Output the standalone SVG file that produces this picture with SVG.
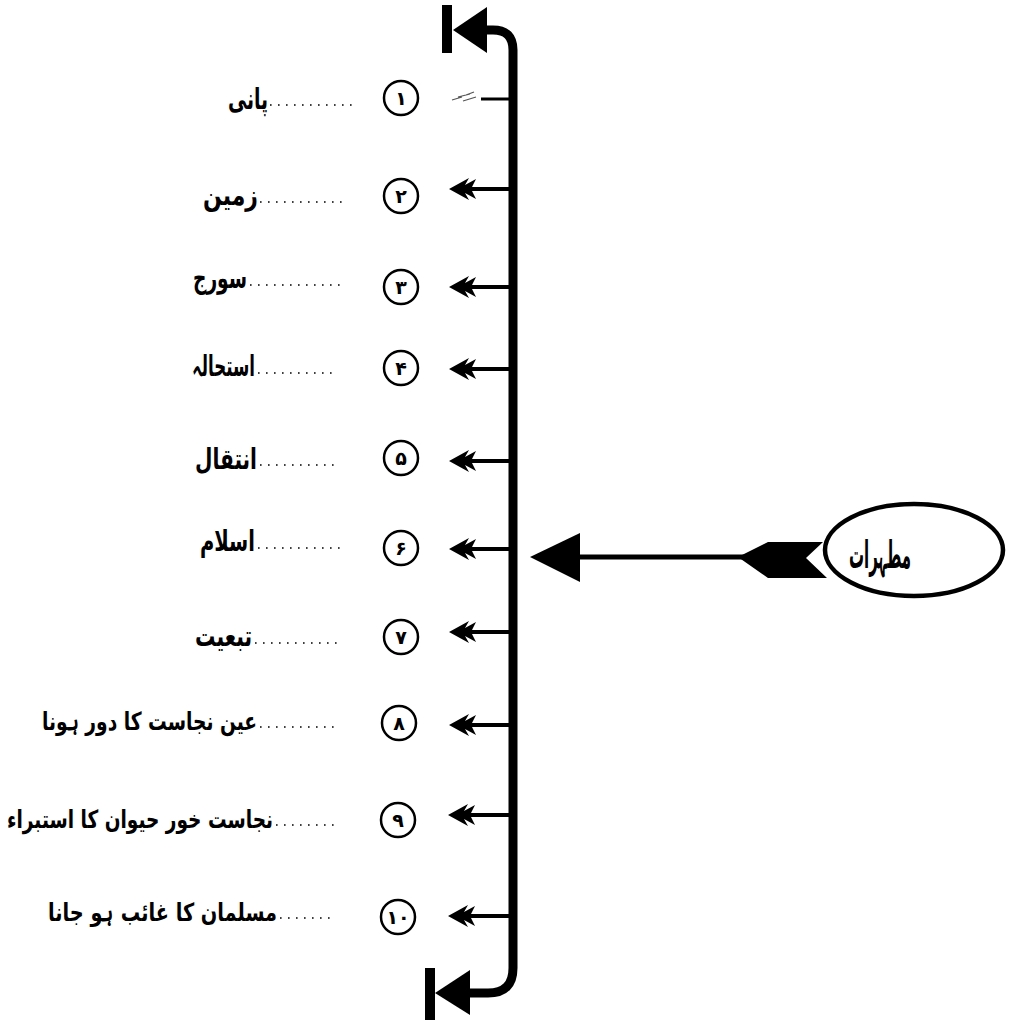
<svg xmlns="http://www.w3.org/2000/svg" xmlns:xlink="http://www.w3.org/1999/xlink" width="1021" height="1020" viewBox="0 0 1021 1020">
<style>
.bg{fill:#fff}
.num{fill:none;stroke:#000;stroke-width:2.5}
.dig{font-family:"DejaVu Sans",sans-serif;font-size:19px;font-weight:bold;fill:#000;text-anchor:middle}
.lbl{font-family:"DejaVu Sans",sans-serif;font-size:29px;font-weight:bold;fill:#000;text-anchor:end}
.lbl2{font-family:"DejaVu Sans",sans-serif;font-size:25px;font-weight:bold;fill:#000;text-anchor:end}
.dots{stroke:#000;stroke-width:1.6;stroke-dasharray:1.6 6.4;fill:none}
.branch{stroke:#000;stroke-width:4;fill:none}
.spine{stroke:#000;stroke-width:9;fill:none}
.blk{fill:#000}
</style>
<defs>
<path id="fhead" d="M0,0 L20,-11 L16,-4 L27,-10 L23,-2 L23,2 L27,10 L16,4 L20,11 Z"/>
</defs>
<rect class="bg" width="1021" height="1020"/>

<g id="connectors">
  <path class="spine" d="M487,30 L493,30 Q513,30 513,50 L513,968 Q513,993 488,993 L470,993"/>
  <polygon class="blk" points="453,30 487,7 487,53"/>
  <rect class="blk" x="442" y="5" width="10" height="48"/>
  <polygon class="blk" points="435,993 470,970 470,1015"/>
  <rect class="blk" x="425" y="968" width="10" height="52"/>
  <line x1="481" y1="99" x2="513" y2="99" stroke="#000" stroke-width="3"/>
  <path d="M452,100 L462,97 M458,97 L470,94 M463,101 L476,97 M466,95 L474,92" stroke="#555" stroke-width="1.2" fill="none"/>
  <line class="branch" x1="470" y1="189" x2="513" y2="189"/><use xlink:href="#fhead" x="449" y="189"/>
  <line class="branch" x1="470" y1="287" x2="513" y2="287"/><use xlink:href="#fhead" x="449" y="287"/>
  <line class="branch" x1="470" y1="369" x2="513" y2="369"/><use xlink:href="#fhead" x="449" y="369"/>
  <line class="branch" x1="470" y1="461" x2="513" y2="461"/><use xlink:href="#fhead" x="449" y="461"/>
  <line class="branch" x1="470" y1="549" x2="513" y2="549"/><use xlink:href="#fhead" x="449" y="549"/>
  <line class="branch" x1="470" y1="632" x2="513" y2="632"/><use xlink:href="#fhead" x="449" y="632"/>
  <line class="branch" x1="470" y1="725" x2="513" y2="725"/><use xlink:href="#fhead" x="449" y="725"/>
  <line class="branch" x1="470" y1="815" x2="513" y2="815"/><use xlink:href="#fhead" x="448" y="815"/>
  <line class="branch" x1="470" y1="916" x2="513" y2="916"/><use xlink:href="#fhead" x="448" y="916"/>
  <line x1="575" y1="557" x2="745" y2="557" stroke="#000" stroke-width="5"/>
  <polygon class="blk" points="530,557 580,533 580,582"/>
  <polygon class="blk" points="738,557 768,542 823,542 806,558 827,578 768,578"/>
</g>

<g id="node-1">
  <circle class="num" cx="401" cy="98" r="17"/>
  <text class="dig" x="401" y="105">۱</text>
  <line class="dots" x1="270" y1="105" x2="357" y2="105"/>
  <text class="lbl" x="268" y="109" font-size="34" textLength="40" lengthAdjust="spacingAndGlyphs">پانی</text>
</g>
<g id="node-2">
  <circle class="num" cx="401" cy="196" r="17"/>
  <text class="dig" x="401" y="203">۲</text>
  <line class="dots" x1="260" y1="202" x2="347" y2="202"/>
  <text class="lbl" x="258" y="205" textLength="55" lengthAdjust="spacingAndGlyphs">زمین</text>
</g>
<g id="node-3">
  <circle class="num" cx="401" cy="287" r="17"/>
  <text class="dig" x="401" y="294">۳</text>
  <line class="dots" x1="250" y1="285" x2="345" y2="285"/>
  <text class="lbl" x="247" y="288" textLength="54" lengthAdjust="spacingAndGlyphs">سورج</text>
</g>
<g id="node-4">
  <circle class="num" cx="401" cy="368" r="17"/>
  <text class="dig" x="401" y="375">۴</text>
  <line class="dots" x1="258" y1="373" x2="338" y2="373"/>
  <text class="lbl" x="255" y="376" textLength="63" lengthAdjust="spacingAndGlyphs">استحالہ</text>
</g>
<g id="node-5">
  <circle class="num" cx="401" cy="458" r="17"/>
  <text class="dig" x="401" y="465">۵</text>
  <line class="dots" x1="260" y1="465" x2="340" y2="465"/>
  <text class="lbl" x="257" y="469" font-size="34" textLength="62" lengthAdjust="spacingAndGlyphs">انتقال</text>
</g>
<g id="node-6">
  <circle class="num" cx="401" cy="548" r="17"/>
  <text class="dig" x="401" y="555">۶</text>
  <line class="dots" x1="258" y1="548" x2="340" y2="548"/>
  <text class="lbl" x="255" y="551" textLength="55" lengthAdjust="spacingAndGlyphs">اسلام</text>
</g>
<g id="node-7">
  <circle class="num" cx="401" cy="637" r="17"/>
  <text class="dig" x="401" y="644">۷</text>
  <line class="dots" x1="255" y1="643" x2="340" y2="643"/>
  <text class="lbl" x="252" y="646" textLength="57" lengthAdjust="spacingAndGlyphs">تبعیت</text>
</g>
<g id="node-8">
  <circle class="num" cx="399" cy="723" r="17"/>
  <text class="dig" x="399" y="730">۸</text>
  <line class="dots" x1="260" y1="727" x2="340" y2="727"/>
  <text class="lbl2" x="257" y="730" textLength="215" lengthAdjust="spacingAndGlyphs">عین نجاست کا دور ہونا</text>
</g>
<g id="node-9">
  <circle class="num" cx="398" cy="820" r="17"/>
  <text class="dig" x="398" y="827">۹</text>
  <line class="dots" x1="276" y1="825" x2="340" y2="825"/>
  <text class="lbl2" x="273" y="828" textLength="266" lengthAdjust="spacingAndGlyphs">نجاست خور حیوان کا استبراء</text>
</g>
<g id="node-10">
  <circle class="num" cx="398" cy="917" r="17"/>
  <text class="dig" x="398" y="924" font-size="16">۱۰</text>
  <line class="dots" x1="280" y1="918" x2="335" y2="918"/>
  <text class="lbl2" x="277" y="921" textLength="229" lengthAdjust="spacingAndGlyphs">مسلمان کا غائب ہو جانا</text>
</g>

<g id="node-root">
  <ellipse cx="914" cy="550" rx="89" ry="46" fill="#fff" stroke="#000" stroke-width="4.5"/>
  <text x="880" y="568" font-family="DejaVu Sans, sans-serif" font-size="38" font-weight="bold" text-anchor="middle" textLength="62" lengthAdjust="spacingAndGlyphs">مطہرات</text>
</g>
</svg>
